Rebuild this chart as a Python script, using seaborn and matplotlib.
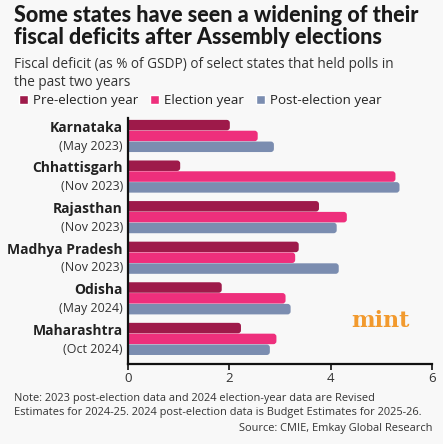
import matplotlib
matplotlib.use("Agg")
import matplotlib.pyplot as plt
from matplotlib.patches import FancyBboxPatch
import pandas as pd
import numpy as np
import seaborn as sns

# data (fiscal deficit, % of GSDP)
states = ['Karnataka', 'Chhattisgarh', 'Rajasthan', 'Madhya Pradesh', 'Odisha', 'Maharashtra']
poll_dates = ['(May 2023)', '(Nov 2023)', '(Nov 2023)', '(Nov 2023)', '(May 2024)', '(Oct 2024)']
pre_election = [2.01, 1.03, 3.77, 3.37, 1.85, 2.23]
election_year = [2.56, 5.28, 4.32, 3.30, 3.11, 2.93]
post_election = [2.88, 5.36, 4.12, 4.16, 3.21, 2.80]
series = ['Pre-election year', 'Election year', 'Post-election year']
colors = ['#9e1a4a', '#ee2f7c', '#7b8db0']

df = pd.DataFrame({'state': states, series[0]: pre_election,
                   series[1]: election_year, series[2]: post_election})
long = df.melt(id_vars='state', var_name='period', value_name='deficit')

sns.set_style('white')
plt.rcParams['font.family'] = ['Open Sans', 'DejaVu Sans']
bg = '#f8f8f8'

fig = plt.figure(figsize=(4.43, 4.44), dpi=100, facecolor=bg)
ax = fig.add_axes([0.289, 0.180, 0.686, 0.554], facecolor=bg)

sns.barplot(data=long, y='state', x='deficit', hue='period', order=states,
            hue_order=series, palette=colors, orient='h', width=0.8,
            gap=0, saturation=1, ax=ax)

# swap the plain bars for ones with rounded right ends
bars = list(ax.patches)
for p in bars:
    x, y = p.get_x(), p.get_y()
    w, h = p.get_width(), p.get_height()
    if w <= 0:
        continue
    rb = FancyBboxPatch((x - 0.15, y + 0.004), w + 0.15, h - 0.008,
                        boxstyle='round,pad=0,rounding_size=0.06',
                        mutation_aspect=1.25, facecolor=p.get_facecolor(),
                        edgecolor='none', zorder=p.get_zorder())
    ax.add_patch(rb)
    p.set_visible(False)

ax.set_xlim(0, 6)
ax.set_ylim(5.62, -0.44)
ax.set_xticks([0, 2, 4, 6])
ax.set_xlabel('')
ax.set_ylabel('')
ax.set_yticks([])
for s in ['top', 'right']:
    ax.spines[s].set_visible(False)
for s in ['left', 'bottom']:
    ax.spines[s].set_color('#111111')
    ax.spines[s].set_linewidth(1.6)
    ax.spines[s].set_zorder(5)
ax.tick_params(axis='x', length=4, width=1.2, color='#111111', labelsize=9.5,
               labelcolor='#333333', pad=2, bottom=True)

for i, (st, dt) in enumerate(zip(states, poll_dates)):
    ax.text(-0.1, i - 0.2, st, ha='right', va='center', fontsize=10,
            fontweight='bold', color='#222222')
    ax.text(-0.1, i + 0.25, dt, ha='right', va='center', fontsize=9,
            color='#333333')

handles, labels = ax.get_legend_handles_labels()
ax.legend_.remove()
fig.legend(handles, labels, ncol=3, loc='upper left', bbox_to_anchor=(0.015, 0.815),
           frameon=False, handlelength=0.7, handleheight=0.7, handletextpad=0.35,
           columnspacing=0.9, fontsize=9.6, labelcolor='#222222')

fig.text(0.032, 0.988, 'Some states have seen a widening of their\nfiscal deficits after Assembly elections',
         ha='left', va='top', fontsize=15.5, fontweight='black', family='Lato',
         color='#1a1a1a', linespacing=1.05)
fig.text(0.032, 0.872, 'Fiscal deficit (as % of GSDP) of select states that held polls in\nthe past two years',
         ha='left', va='top', fontsize=9.8, color='#333333', linespacing=1.25)

fig.text(0.792, 0.278, 'mint', ha='left', va='center', fontsize=16, fontweight='bold',
         family='DejaVu Serif', color='#f29a2e')

fig.text(0.032, 0.115, 'Note: 2023 post-election data and 2024 election-year data are Revised\nEstimates for 2024-25. 2024 post-election data is Budget Estimates for 2025-26.',
         ha='left', va='top', fontsize=7.9, color='#333333', linespacing=1.35)
fig.text(0.976, 0.022, 'Source: CMIE, Emkay Global Research', ha='right', va='bottom',
         fontsize=7.9, color='#333333')

fig.savefig('out.png', dpi=100, facecolor=bg)
